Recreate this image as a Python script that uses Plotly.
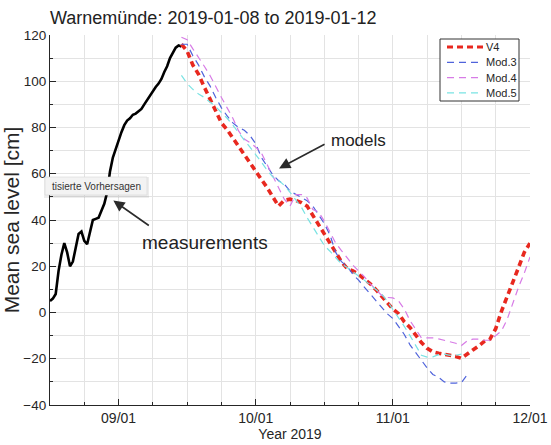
import pandas as pd
import plotly.graph_objects as go

# ---- data -------------------------------------------------------------
# observed sea level, 30-min steps starting 2019-01-08 12:00
obs_start = "2019-01-08 12:00"
obs_values = [5, 6, 8, 18, 25, 30, 26, 20, 22, 28, 34, 35, 31, 29.5, 35, 40,
              40.5, 41, 44, 47, 52, 61, 67, 71, 74, 78, 81, 83, 84, 85.5, 86,
              87, 88, 90, 92, 93.5, 96, 97.5, 99, 101, 104, 106.5, 110, 112.5,
              114.5, 115.5, 115]

# model forecasts, hourly steps starting 2019-01-09 11:00
mod_start = "2019-01-09 11:00"
v4 = [116, 113, 107, 103, 97.5, 92.5, 87, 82, 79, 75.5, 71.5, 68, 64.5, 61,
      57.5, 54, 50, 46, 48.5, 49, 48.5, 47.5, 46, 42, 37.5, 34, 30, 26, 22,
      19, 18, 16.5, 14.5, 12.5, 10, 7, 4, 1.5, -0.5, -4, -6.5, -10, -13,
      -15.5, -17, -17.6, -18, -18.4, -19, -19.8, -17.8, -16.2, -14.5, -12.5,
      -11.5, -7, 0.5, 6.5, 12.5, 19.5, 26, 30]
mod3 = [116, 116, 111, 107, 102, 98, 93, 88.5, 85, 82, 80, 78.8, 76.5, 73,
        67, 63, 59.5, 57, 55.5, 52.5, 51, 49.5, 48.3, 46, 42, 38.5, 33.5, 26,
        22, 20, 16.5, 14, 11, 8, 5, 2, -0.5, -2.6, -6, -9.5, -14, -17.5, -21,
        -24, -26.8, -28, -30, -30.5, -30.5, -30.3, -27]
mod4 = [119, 118, 114, 110.5, 106.5, 102.5, 97.5, 93, 88.5, 84, 78.5, 75,
        73.5, 71.5, 69, 64, 58.5, 53.5, 49, 46, 51, 51, 49.5, 44.5, 43.5,
        39.5, 34.5, 30, 26.8, 23.5, 20.5, 18, 15.5, 12.5, 10, 7.5, 6.5, 6.3,
        5, 1.5, -3.5, -7, -11, -11, -11, -11.4, -12, -12.5, -13.3, -14.3,
        -12.3, -11.5, -11.5, -12, -12, -10, -8, -3, 4.5, 11, 17, 24]
mod5 = [102.5, 99, 96.5, 94.5, 93, 91, 89, 86.5, 84, 81, 77.5, 74.5, 71.5,
        68.5, 65, 61.5, 58.6, 57.2, 55, 52, 49, 45.5, 41, 37, 32.5, 29, 26.5,
        23.5, 21, 19.5, 17.5, 15.8, 14, 12, 10, 8, 5, 1.5, -2.5, -6, -10,
        -14.5, -18.5, -19.3, -19.2, -18.2, -18, -18.5, -18.5, -18]

x_range = ["2019-01-08 12:00", "2019-01-12 00:00"]
day_ticks = ["2019-01-09", "2019-01-10", "2019-01-11", "2019-01-12"]
day_labels = ["09/01", "10/01", "11/01", "12/01"]

obs_time = pd.date_range(obs_start, periods=len(obs_values), freq="30min")

def mod_time(vals):
    return pd.date_range(mod_start, periods=len(vals), freq="h")

FONT = "Liberation Sans, Arial, Helvetica, sans-serif"
INK = "#262626"

fig = go.Figure()
fig.add_trace(go.Scatter(x=obs_time, y=obs_values, mode="lines",
                         line=dict(color="black", width=2.6),
                         showlegend=False))
series = [
    ("V4", v4, "#e8281f", 3.6, "6px,4px"),
    ("Mod.3", mod3, "#4f63db", 1.2, "7px,5px"),
    ("Mod.4", mod4, "#d77be6", 1.2, "7px,5px"),
    ("Mod.5", mod5, "#7ae3e3", 1.2, "7px,5px"),
]
for name, vals, col, w, dash in series:
    fig.add_trace(go.Scatter(x=mod_time(vals), y=vals, mode="lines", name=name,
                             line=dict(color=col, width=w, dash=dash),
                             showlegend=False))

# plot area in pixels: left 50, right 530, top 35, bottom 405
L, R, T, B = 50, 530, 35, 405
def px(xp):
    return (xp - L) / (R - L)
def py(yp):
    return (B - yp) / (B - T)

grid = "#e3e3e3"
fig.update_layout(
    width=551, height=445,
    margin=dict(l=L, r=551 - R, t=T, b=445 - B),
    paper_bgcolor="white", plot_bgcolor="white",
    font=dict(family=FONT, color=INK),
    title=dict(text="Warnemünde: 2019-01-08 to 2019-01-12",
               x=L / 551, xanchor="left", y=1 - 18 / 445, yanchor="middle",
               font=dict(size=18, color="#222222")),
    xaxis=dict(type="date", range=x_range, tickvals=day_ticks,
               ticktext=day_labels, ticks="inside", ticklen=6,
               tickcolor=INK, tickfont=dict(size=14),
               showline=True, linecolor=INK, linewidth=1.2,
               showgrid=True, gridcolor=grid, gridwidth=1,
               minor=dict(dtick=6 * 3600 * 1000, tick0="2019-01-08",
                          showgrid=True, gridcolor=grid, ticks="inside",
                          ticklen=3, tickcolor=INK),
               title=dict(text="Year 2019", font=dict(size=14), standoff=0),
               automargin=False, zeroline=False, fixedrange=True),
    yaxis=dict(range=[-40, 120], dtick=20, tick0=0, ticks="inside",
               ticklen=6, tickcolor=INK, tickfont=dict(size=13.5),
               showline=True, linecolor=INK, linewidth=1.2,
               showgrid=True, gridcolor=grid,
               minor=dict(dtick=10, showgrid=True, gridcolor=grid,
                          ticks="inside", ticklen=3, tickcolor=INK),
               title=dict(text="Mean sea level [cm]", font=dict(size=21),
                          standoff=6),
               automargin=False, zeroline=False, fixedrange=True),
    showlegend=False,
)

# compact legend box
fig.add_shape(type="rect", xref="paper", yref="paper",
              x0=px(440), x1=px(519), y0=py(101), y1=py(39),
              fillcolor="white", line=dict(color="#333333", width=1),
              layer="above")
for i, (name, vals, col, w, dash) in enumerate(series):
    yc = 47 + i * 15.3
    fig.add_shape(type="line", xref="paper", yref="paper",
                  x0=px(447), x1=px(483), y0=py(yc), y1=py(yc),
                  line=dict(color=col, width=min(w, 3), dash=dash),
                  layer="above")
    fig.add_annotation(x=px(484), y=py(yc), xref="paper", yref="paper",
                       xanchor="left", yanchor="middle", text=name,
                       showarrow=False, font=dict(size=11, color=INK))

# arrows with labels
fig.add_annotation(x="2019-01-10 04:05", y=62.3, ax=47, ay=-25,
                   xref="x", yref="y", text="", showarrow=True,
                   arrowhead=2, arrowsize=1.4, arrowwidth=1.6,
                   arrowcolor="#2b2b2b", standoff=0)
fig.add_annotation(x=px(358), y=py(140), xref="paper", yref="paper",
                   xanchor="center", yanchor="middle",
                   text="models", showarrow=False,
                   font=dict(size=17, color="#222222"))
fig.add_annotation(x="2019-01-08 23:05", y=48.4, ax=37, ay=26,
                   xref="x", yref="y", text="", showarrow=True,
                   arrowhead=2, arrowsize=1.4, arrowwidth=1.6,
                   arrowcolor="#2b2b2b", standoff=0)
fig.add_annotation(x=px(205), y=py(242), xref="paper", yref="paper",
                   xanchor="center", yanchor="middle",
                   text="measurements", showarrow=False,
                   font=dict(size=19, color="#222222"))

# small tooltip box overlaying the axis
fig.add_shape(type="rect", xref="paper", yref="paper",
              x0=px(44), x1=px(149), y0=py(198), y1=py(177),
              fillcolor="rgba(0,0,0,0.07)", line=dict(width=0), layer="above")
fig.add_shape(type="rect", xref="paper", yref="paper",
              x0=px(45), x1=px(147), y0=py(195), y1=py(177),
              fillcolor="#f3f3f3", line=dict(color="#d6d6d6", width=0.6),
              layer="above")
fig.add_annotation(x=px(50), y=py(186), xref="paper", yref="paper",
                   xanchor="left", yanchor="middle",
                   text="tisierte Vorhersagen",
                   showarrow=False, font=dict(size=10, color="#333333"))

fig.write_html("out.html")
